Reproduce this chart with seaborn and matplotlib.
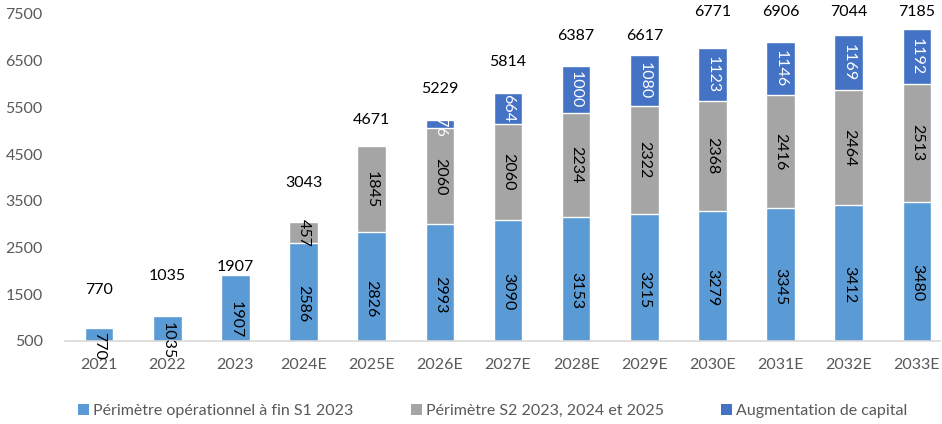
import numpy as np
import pandas as pd
import seaborn as sns
import matplotlib.pyplot as plt
from matplotlib.patches import Patch

# data
years = ['2021', '2022', '2023', '2024E', '2025E', '2026E', '2027E',
         '2028E', '2029E', '2030E', '2031E', '2032E', '2033E']
perimetre_s1 = [770, 1035, 1907, 2586, 2826, 2993, 3090, 3153, 3215, 3279, 3345, 3412, 3480]
perimetre_s2 = [0, 0, 0, 457, 1845, 2060, 2060, 2234, 2322, 2368, 2416, 2464, 2513]
augmentation = [0, 0, 0, 0, 0, 176, 664, 1000, 1080, 1123, 1146, 1169, 1192]
totals = [770, 1035, 1907, 3043, 4671, 5229, 5814, 6387, 6617, 6771, 6906, 7044, 7185]
# where the total labels sit (data units)
total_label_y = [1600, 1890, 2080, 3880, 5230, 5900, 6480, 7020, 7020, 7540, 7540, 7540, 7540]

names = ['Périmètre opérationnel à fin S1 2023',
         'Périmètre S2 2023, 2024 et 2025',
         'Augmentation de capital']
colors = ['#5B9BD5', '#A5A5A5', '#4472C4']

df = pd.DataFrame({'year': years, 's1': perimetre_s1, 's2': perimetre_s2, 'aug': augmentation})
df['lvl2'] = df['s1'] + df['s2']
df['lvl3'] = df['lvl2'] + df['aug']

sns.set_style('white')
plt.rcParams['font.family'] = ['Lato', 'DejaVu Sans']

fig = plt.figure(figsize=(9.42, 4.24), dpi=100)
ax = fig.add_axes([0.069, 0.196, 0.929, 0.771])

# stacked bars: draw the cumulative heights from the top layer down
sns.barplot(data=df, x='year', y='lvl3', color=colors[2], width=0.42, saturation=1, ax=ax)
sns.barplot(data=df, x='year', y='lvl2', color=colors[1], width=0.42, saturation=1, ax=ax)
sns.barplot(data=df, x='year', y='s1', color=colors[0], width=0.42, saturation=1, ax=ax)

fs = 11.5
for i in range(len(years)):
    s1, s2, ag = perimetre_s1[i], perimetre_s2[i], augmentation[i]
    ax.text(i, s1 / 2, str(s1), rotation=-90, ha='center', va='center', fontsize=fs, color='black')
    if s2 > 0:
        ax.text(i, s1 + s2 / 2, str(s2), rotation=-90, ha='center', va='center', fontsize=fs, color='black')
    if ag > 0:
        ax.text(i, s1 + s2 + ag / 2, str(ag), rotation=-90, ha='center', va='center', fontsize=fs, color='white')
    ax.text(i, total_label_y[i], str(totals[i]), ha='center', va='center', fontsize=fs, color='black')

ax.set_ylim(500, 7500)
ax.set_xlim(-0.5, 12.34)
ax.set_yticks(np.arange(500, 7501, 1000))
ax.set_xlabel('')
ax.set_ylabel('')
for s in ['top', 'right', 'left']:
    ax.spines[s].set_visible(False)
ax.spines['bottom'].set_color('#D9D9D9')
ax.spines['bottom'].set_linewidth(1.2)
ax.tick_params(axis='both', length=0, labelsize=fs, colors='#595959')
ax.tick_params(axis='y', pad=16)
ax.tick_params(axis='x', pad=12)
ax.patch.set_alpha(0)

handles = [Patch(facecolor=c, edgecolor='none') for c in colors]
leg = fig.legend(handles, names, loc='lower center', bbox_to_anchor=(0.523, -0.02), ncol=3,
                 frameon=False, fontsize=fs, handlelength=0.7, handleheight=0.7,
                 handletextpad=0.25, columnspacing=3.6)
for t in leg.get_texts():
    t.set_color('#595959')

fig.savefig('out.png', dpi=100)
